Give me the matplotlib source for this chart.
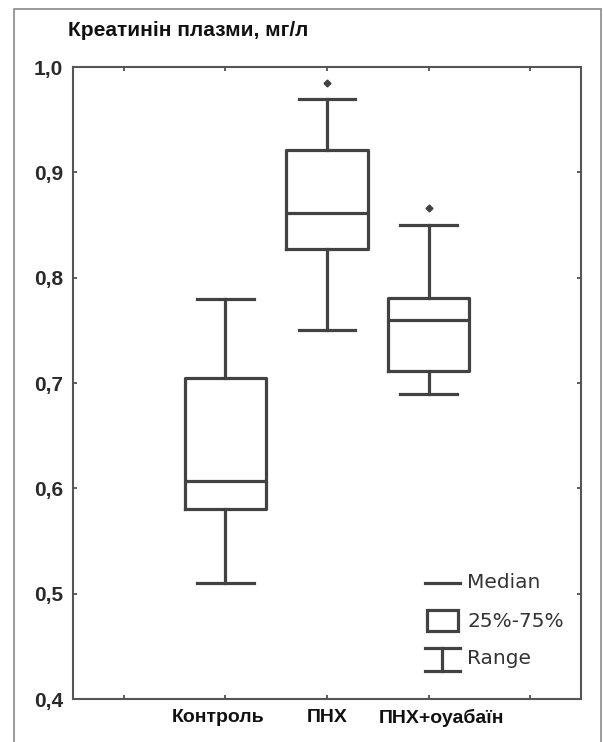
import matplotlib
matplotlib.use("Agg")
import matplotlib.pyplot as plt
import matplotlib.transforms as mtransforms
from matplotlib.patches import Rectangle
from matplotlib.lines import Line2D

categories = ["Контроль", "ПНХ", "ПНХ+оуабаїн"]
positions = [2, 3, 4]
whisker_low = [0.51, 0.75, 0.69]
q1 = [0.580, 0.827, 0.711]
median = [0.607, 0.861, 0.760]
q3 = [0.705, 0.921, 0.781]
whisker_high = [0.78, 0.97, 0.85]
outliers = [[], [0.985], [0.866]]

title = "Креатинін плазми, мг/л"
yticks = [0.4, 0.5, 0.6, 0.7, 0.8, 0.9, 1.0]
ytick_labels = ["0,4", "0,5", "0,6", "0,7", "0,8", "0,9", "1,0"]
legend_labels = ["Median", "25%-75%", "Range"]

W, H = 603, 742
fig = plt.figure(figsize=(W / 100, H / 100), dpi=100)
ax = fig.add_axes([73 / W, 1 - 699 / H, (581 - 73) / W, (699 - 67) / H])

col = "#424242"
lw = 2.3

stats = []
for i in range(len(categories)):
    stats.append(dict(med=median[i], q1=q1[i], q3=q3[i],
                      whislo=whisker_low[i], whishi=whisker_high[i],
                      fliers=outliers[i], label=categories[i]))

ax.bxp(stats, positions=positions, widths=0.8, capwidths=0.56,
       boxprops=dict(color=col, linewidth=lw),
       medianprops=dict(color=col, linewidth=lw),
       whiskerprops=dict(color=col, linewidth=lw),
       capprops=dict(color=col, linewidth=lw),
       flierprops=dict(marker="D", markersize=3.5, markerfacecolor=col,
                       markeredgecolor=col),
       manage_ticks=False)

ax.set_xlim(0.5, 5.5)
ax.set_ylim(0.4, 1.0)
ax.set_xticks([1, 2, 3, 4, 5])
ax.set_xticklabels([""] + categories + [""], fontsize=14, fontweight="bold",
                   family="Liberation Sans", color="#111111")
ax.set_yticks(yticks)
ax.set_yticklabels(ytick_labels, fontsize=15, fontweight="bold",
                   family="Liberation Sans", color="#2a2a2a")
ax.tick_params(direction="in", length=3, width=1.2, color=col,
               top=True, right=True)
ax.tick_params(axis="x", pad=7)
ax.tick_params(axis="y", pad=7)
for s in ax.spines.values():
    s.set_color("#555555")
    s.set_linewidth(1.5)

# small horizontal offsets of category labels as in the reference
offsets_px = [0, -7, 0, 13, 0]
for lab, dx in zip(ax.get_xticklabels(), offsets_px):
    lab.set_transform(lab.get_transform() +
                      mtransforms.ScaledTranslation(dx / 100, 0, fig.dpi_scale_trans))

# legend drawn manually
tr = ax.transAxes
x0, x1 = 0.692, 0.761
ax.add_line(Line2D([x0, x1], [0.184, 0.184], transform=tr, color=col, lw=lw))
ax.add_patch(Rectangle((x0 + 0.004, 0.108), x1 - x0 - 0.008, 0.033,
                       transform=tr, fill=False, edgecolor=col, lw=lw))
ax.add_line(Line2D([x0, x1], [0.081, 0.081], transform=tr, color=col, lw=lw))
ax.add_line(Line2D([x0, x1], [0.045, 0.045], transform=tr, color=col, lw=lw))
xm = (x0 + x1) / 2
ax.add_line(Line2D([xm, xm], [0.045, 0.081], transform=tr, color=col, lw=lw))
for yy, lab in zip([0.184, 0.122, 0.064], legend_labels):
    ax.text(0.776, yy, lab, transform=tr, fontsize=14.5, family="DejaVu Sans",
            color="#333333", va="center", ha="left")

fig.text(68 / W, 1 - 30 / H, title, fontsize=15, fontweight="bold",
         family="Liberation Sans", color="#111111", va="center", ha="left")

# outer frame
fig.patches.append(Rectangle((13.5 / W, -0.05), (601 - 13.5) / W, 1.05 - 8.5 / H,
                             transform=fig.transFigure, fill=False,
                             edgecolor="#8a8a8a", lw=1.2))

fig.savefig("out.png", dpi=100)
